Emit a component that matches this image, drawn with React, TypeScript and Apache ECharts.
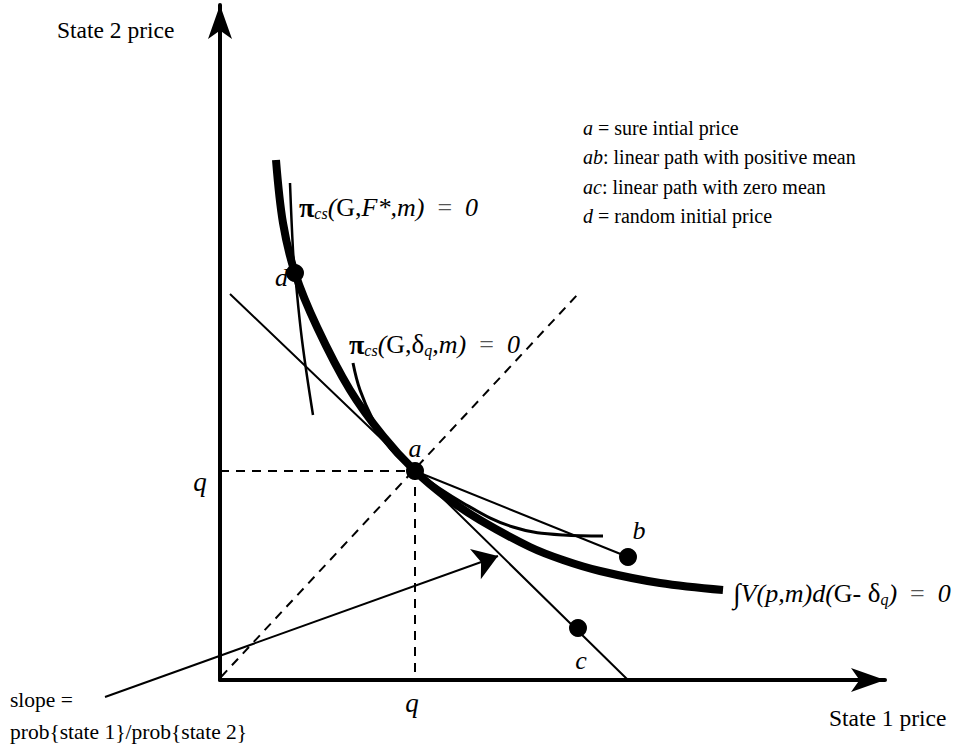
import React, { useEffect, useRef } from 'react';
import * as echarts from 'echarts';

// Data in chart units (origin at the axes' corner)
const X_MAX = 665;
const Y_MAX = 675;
const wealthCurve = [[56, 520], [63, 457], [75, 407], [97, 353], [130, 290], [163, 244], [195, 209], [227, 182], [260, 160], [310, 133], [343, 120], [380, 109], [440, 97], [503, 90]];
const deltaCurve = [[133, 317], [140, 290], [153, 260], [170, 232], [195, 209], [243, 177], [293, 153], [343, 145], [383, 144]];
const fStarCurve = [[70, 497], [73, 430], [75, 407], [82, 340], [93, 265]];
const zeroMeanPath = [[10, 386], [195, 209], [408, 0]];
const positiveMeanPath = [[195, 209], [408, 123]];
const certaintyLine = [[1, 3], [359, 387]];
const qHorizontal = [[0, 209], [195, 209]];
const qVertical = [[195, 209], [195, 0]];
const slopeArrow = [[-115, -17], [278, 124]];
const pointNames = ['a', 'b', 'c', 'd'];
const pointValues = [[195, 209], [408, 123], [358, 52], [75, 407]];
const legendLines = [
  '{i|a} = sure intial price',
  '{i|ab}: linear path with positive mean',
  '{i|ac}: linear path with zero mean',
  '{i|d} = random initial price',
];

const FONT = '"Liberation Serif", "Times New Roman", serif';

export default function App() {
  const ref = useRef<HTMLDivElement>(null);
  useEffect(() => {
    if (!ref.current) return;
    const chart = echarts.init(ref.current, undefined, { renderer: 'svg' });
    const txt = (x: number, y: number, text: string, size = 20, extra: any = {}) => ({
      type: 'text',
      x,
      y,
      style: {
        text,
        fontFamily: FONT,
        fontSize: size,
        fill: '#000',
        align: 'left',
        verticalAlign: 'middle',
        ...extra,
      },
    });
    const mathRich = {
      pi: { fontFamily: FONT, fontSize: 28, fontWeight: 'bold', fill: '#000' },
      sub: { fontFamily: FONT, fontSize: 16, fontStyle: 'italic', fill: '#000', verticalAlign: 'bottom', padding: [7, 0, 0, 0] },
      it: { fontFamily: FONT, fontSize: 26, fontStyle: 'italic', fill: '#000' },
      n: { fontFamily: FONT, fontSize: 26, fill: '#000' },
      g: { fontFamily: FONT, fontSize: 26, fill: '#555' },
      dl: { fontFamily: FONT, fontSize: 27, fill: '#000' },
      int: { fontFamily: FONT, fontSize: 28, fill: '#000' },
    };
    const thin = { color: '#000', width: 2 };
    const dashed = { color: '#000', width: 2, type: [9, 7] };
    const lineSeries = (data: number[][], lineStyle: any, smooth: any = false) => ({
      type: 'line',
      data,
      showSymbol: false,
      symbol: 'none',
      smooth,
      clip: false,
      lineStyle,
      silent: true,
    });
    chart.setOption({
      animation: false,
      backgroundColor: '#fff',
      grid: { left: 220, bottom: 70, right: 956 - 220 - X_MAX, top: 750 - 70 - Y_MAX },
      xAxis: {
        type: 'value',
        min: 0,
        max: X_MAX,
        axisLine: { show: true, symbol: ['none', 'arrow'], symbolSize: [18, 34], lineStyle: { color: '#000', width: 4 } },
        axisTick: { show: false },
        axisLabel: { show: false },
        splitLine: { show: false },
      },
      yAxis: {
        type: 'value',
        min: 0,
        max: Y_MAX,
        axisLine: { show: true, symbol: ['none', 'arrow'], symbolSize: [18, 34], lineStyle: { color: '#000', width: 4 } },
        axisTick: { show: false },
        axisLabel: { show: false },
        splitLine: { show: false },
      },
      series: [
        lineSeries(qHorizontal, dashed),
        lineSeries(qVertical, dashed),
        lineSeries(certaintyLine, dashed),
        lineSeries(zeroMeanPath, thin),
        lineSeries(positiveMeanPath, thin),
        lineSeries(fStarCurve, { color: '#000', width: 2.5 }, 0.4),
        lineSeries(deltaCurve, { color: '#000', width: 3 }, 0.4),
        lineSeries(wealthCurve, { color: '#000', width: 8 }, 0.35),
        {
          type: 'lines',
          coordinateSystem: 'cartesian2d',
          clip: false,
          silent: true,
          symbol: ['none', 'arrow'],
          symbolSize: [13, 24],
          lineStyle: { color: '#000', width: 2, opacity: 1 },
          data: [{ coords: slopeArrow }],
        },
        {
          type: 'scatter',
          symbolSize: 18,
          itemStyle: { color: '#000', opacity: 1 },
          silent: true,
          data: pointValues.map((v, i) => ({ name: pointNames[i], value: v })),
        },
      ],
      graphic: [
        txt(57, 30, 'State 2 price', 23.5),
        txt(829, 718, 'State 1 price', 23.5),
        ...legendLines.map((l, i) => txt(583, 128 + i * 29.3, l, 20, { rich: { i: { fontFamily: FONT, fontSize: 20, fontStyle: 'italic', fill: '#000' } } })),
        txt(299, 207, '{pi|π}{sub|cs}{it|(}{n|G,}{it|F*,m)}  {g|=}  {it|0}', 26, { rich: mathRich }),
        txt(349, 344, '{pi|π}{sub|cs}{it|(}{n|G,}{dl|δ}{sub|q}{it|,m)}  {g|=}  {it|0}', 26, { rich: mathRich }),
        txt(733, 593, '{int|∫}{it|V(p,m)d(}{n|G- }{dl|δ}{sub|q}{it|)}  {g|=}  {it|0}', 26, { rich: mathRich }),
        txt(288, 277, 'd', 26, { fontStyle: 'italic', align: 'right' }),
        txt(415, 448, 'a', 26, { fontStyle: 'italic', align: 'center' }),
        txt(639, 530, 'b', 26, { fontStyle: 'italic', align: 'center' }),
        txt(581, 660, 'c', 26, { fontStyle: 'italic', align: 'center' }),
        txt(200, 482, 'q', 27, { fontStyle: 'italic', align: 'center' }),
        txt(412, 703, 'q', 27, { fontStyle: 'italic', align: 'center' }),
        txt(10, 700, 'slope =', 21.5),
        txt(10, 732, 'prob{state 1}/prob{state 2}', 21.5),
      ],
    });
    return () => chart.dispose();
  }, []);
  return <div ref={ref} style={{ position: 'absolute', left: 0, top: 0, width: 956, height: 750 }} />;
}
